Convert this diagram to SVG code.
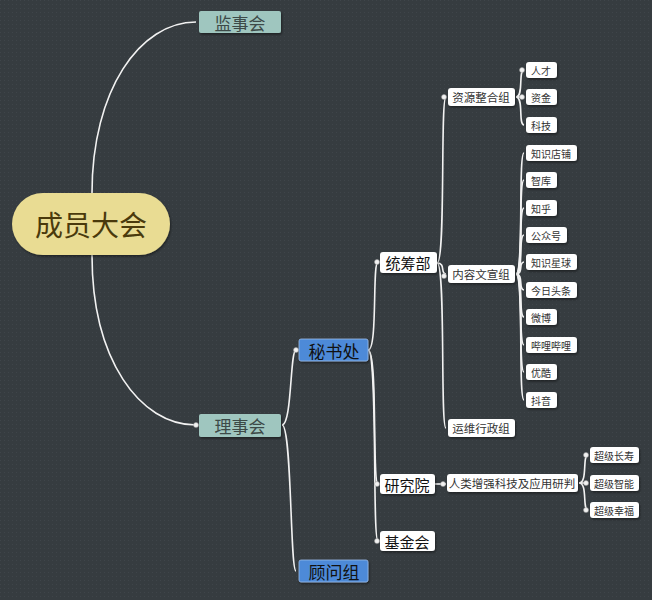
<svg xmlns="http://www.w3.org/2000/svg" width="652" height="600" viewBox="0 0 652 600">
<defs>
<pattern id="dots" width="4" height="4" patternUnits="userSpaceOnUse"><rect width="4" height="4" fill="#363c40"/><rect width="1" height="1" fill="#3f454a"/></pattern>
<filter id="sh" x="-10%" y="-10%" width="130%" height="140%"><feDropShadow dx="1" dy="1.5" stdDeviation="1" flood-color="#000" flood-opacity="0.45"/></filter>
</defs>
<style>
text{font-family:"Noto Sans CJK SC","Noto Sans",sans-serif;text-anchor:middle;dominant-baseline:central}
.c{fill:none;stroke:#f2f2f2;stroke-width:1.6}
.teal{fill:#9fc6bf;filter:url(#sh)}
.blue{fill:#4d8ad8;stroke:#9bbbe8;stroke-width:0.8;filter:url(#sh)}
.w{fill:#ffffff;filter:url(#sh)}
.t1{font-size:17px;fill:#3d4a48}
.t2{font-size:17px;fill:#111}
.t3{font-size:15px;fill:#111}
.t4{font-size:11.5px;fill:#333}
.t5{font-size:10px;fill:#333}
.k{fill:#f2f2f2;stroke:#999;stroke-width:0.5}
</style>
<rect width="652" height="600" fill="url(#dots)"/>
<g id="connectors">
<path class="c" d="M92 193 C92 90 140 22 196 22"/>
<path class="c" d="M92 255 C92 360 140 425 196 425"/>
<path class="c" d="M282 425 C292 425 290 350 296 350"/>
<path class="c" d="M282 425 C292 425 290 571 296 571"/>
<path class="c" d="M368 350 C378 350 372 262 378 262"/>
<path class="c" d="M368 350 C378 350 372 484 378 484"/>
<path class="c" d="M368 350 C378 350 372 541 378 541"/>
<path class="c" d="M437 263 C446 263 440 97 446 97"/>
<path class="c" d="M437 263 C446 263 440 274 446 274"/>
<path class="c" d="M437 263 C446 263 440 428 446 428"/>
<path class="c" d="M516 97 C524 97 518 70 524 70"/>
<path class="c" d="M516 97 L524 97"/>
<path class="c" d="M516 97 C524 97 518 125 524 125"/>
<path class="c" d="M516 274 C524 274 518 153 524 153"/>
<path class="c" d="M516 274 C524 274 518 180 524 180"/>
<path class="c" d="M516 274 C524 274 518 208 524 208"/>
<path class="c" d="M516 274 C524 274 518 235 524 235"/>
<path class="c" d="M516 274 C524 274 518 262 524 262"/>
<path class="c" d="M516 274 C524 274 518 290 524 290"/>
<path class="c" d="M516 274 C524 274 518 317 524 317"/>
<path class="c" d="M516 274 C524 274 518 345 524 345"/>
<path class="c" d="M516 274 C524 274 518 372 524 372"/>
<path class="c" d="M516 274 C524 274 518 400 524 400"/>
<path class="c" d="M435 484 L446 484"/>
<path class="c" d="M579 483 C588 483 582 455 588 455"/>
<path class="c" d="M579 483 L588 483"/>
<path class="c" d="M579 483 C588 483 582 510 588 510"/>
<circle class="k" cx="196" cy="425" r="2.5"/>
<circle class="k" cx="296" cy="350" r="2.5"/>
<circle class="k" cx="377" cy="262" r="2.5"/>
<circle class="k" cx="377" cy="484" r="2.5"/>
<circle class="k" cx="377" cy="541" r="2.5"/>
<circle class="k" cx="444" cy="97" r="2.5"/>
<circle class="k" cx="444" cy="276" r="2.5"/>
<circle class="k" cx="443" cy="484" r="2.5"/>
<circle class="k" cx="522" cy="70" r="2.5"/>
<circle class="k" cx="522" cy="97" r="2.5"/>
<circle class="k" cx="586" cy="455" r="2.5"/>
<circle class="k" cx="586" cy="483" r="2.5"/>
<circle class="k" cx="586" cy="510" r="2.5"/>
</g>
<g id="n-root"><rect x="12" y="193" width="158" height="62" rx="31" fill="#e9dc93" filter="url(#sh)"/><text x="91" y="224" font-size="28" fill="#4a3a0c">成员大会</text></g>
<g id="n-jsh"><rect class="teal" x="199" y="11" width="82" height="22" rx="2"/><text class="t1" x="240" y="22">监事会</text></g>
<g id="n-lsh"><rect class="teal" x="199" y="414" width="82" height="23" rx="2"/><text class="t1" x="240" y="425">理事会</text></g>
<g id="n-msc"><rect class="blue" x="299" y="339" width="69" height="22" rx="2"/><text class="t2" x="334" y="350">秘书处</text></g>
<g id="n-gwz"><rect class="blue" x="299" y="560" width="69" height="22" rx="2"/><text class="t2" x="334" y="571">顾问组</text></g>
<g id="n-tcb"><rect class="w" x="380" y="252" width="57" height="21" rx="3"/><text class="t3" x="408" y="262">统筹部</text></g>
<g id="n-yjy"><rect class="w" x="380" y="474" width="55" height="20" rx="3"/><text class="t3" x="407" y="484">研究院</text></g>
<g id="n-jjh"><rect class="w" x="380" y="531" width="55" height="20" rx="3"/><text class="t3" x="407" y="541">基金会</text></g>
<g id="n-zyzh"><rect class="w" x="448" y="88" width="67" height="18" rx="3"/><text class="t4" x="481" y="97">资源整合组</text></g>
<g id="n-nrwx"><rect class="w" x="448" y="265" width="67" height="18" rx="3"/><text class="t4" x="481" y="274">内容文宣组</text></g>
<g id="n-ywxz"><rect class="w" x="448" y="419" width="67" height="18" rx="3"/><text class="t4" x="481" y="428">运维行政组</text></g>
<g id="n-rlzq"><rect class="w" x="447" y="474" width="131" height="18" rx="3"/><text class="t4" x="512" y="483">人类增强科技及应用研判</text></g>
<g id="n-rc"><rect class="w" x="526" y="62" width="31" height="16" rx="3"/><text class="t5" x="541" y="70">人才</text></g>
<g id="n-zj"><rect class="w" x="526" y="89" width="31" height="16" rx="3"/><text class="t5" x="541" y="97">资金</text></g>
<g id="n-kj"><rect class="w" x="526" y="117" width="31" height="16" rx="3"/><text class="t5" x="541" y="125">科技</text></g>
<g id="n-zsdp"><rect class="w" x="526" y="145" width="51" height="16" rx="3"/><text class="t5" x="551" y="153">知识店铺</text></g>
<g id="n-zk"><rect class="w" x="526" y="172" width="31" height="16" rx="3"/><text class="t5" x="541" y="180">智库</text></g>
<g id="n-zh"><rect class="w" x="526" y="200" width="31" height="16" rx="3"/><text class="t5" x="541" y="208">知乎</text></g>
<g id="n-gzh"><rect class="w" x="526" y="227" width="41" height="16" rx="3"/><text class="t5" x="546" y="235">公众号</text></g>
<g id="n-zsxq"><rect class="w" x="526" y="254" width="51" height="16" rx="3"/><text class="t5" x="551" y="262">知识星球</text></g>
<g id="n-jrtt"><rect class="w" x="526" y="282" width="51" height="16" rx="3"/><text class="t5" x="551" y="290">今日头条</text></g>
<g id="n-wb"><rect class="w" x="526" y="309" width="31" height="16" rx="3"/><text class="t5" x="541" y="317">微博</text></g>
<g id="n-bl"><rect class="w" x="526" y="337" width="51" height="16" rx="3"/><text class="t5" x="551" y="345">哔哩哔哩</text></g>
<g id="n-yk"><rect class="w" x="526" y="364" width="31" height="16" rx="3"/><text class="t5" x="541" y="372">优酷</text></g>
<g id="n-dy"><rect class="w" x="526" y="392" width="31" height="16" rx="3"/><text class="t5" x="541" y="400">抖音</text></g>
<g id="n-cjcs"><rect class="w" x="590" y="447" width="49" height="16" rx="3"/><text class="t5" x="614" y="455">超级长寿</text></g>
<g id="n-cjzn"><rect class="w" x="590" y="475" width="49" height="16" rx="3"/><text class="t5" x="614" y="483">超级智能</text></g>
<g id="n-cjxf"><rect class="w" x="590" y="502" width="49" height="16" rx="3"/><text class="t5" x="614" y="510">超级幸福</text></g>
</svg>
